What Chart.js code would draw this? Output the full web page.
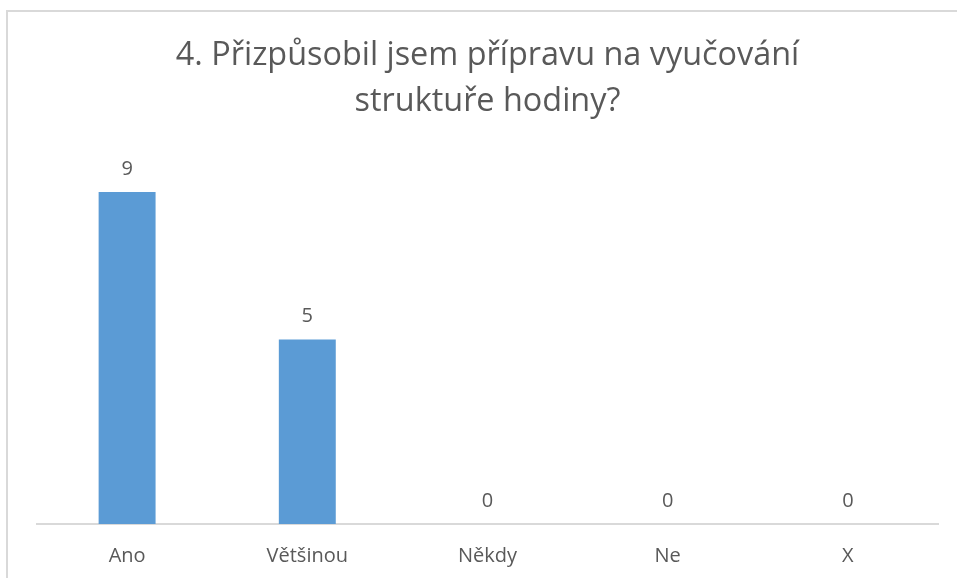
<!DOCTYPE html>
<html>
<head>
<meta charset="utf-8">
<script src="https://cdn.jsdelivr.net/npm/chart.js@4/dist/chart.umd.min.js"></script>
<style>
html,body{margin:0;padding:0;background:#fff;}
#wrap{position:relative;width:957px;height:578px;}
</style>
</head>
<body>
<div id="wrap"><canvas id="c" width="957" height="578"></canvas></div>
<script>
const categories = ["Ano", "Většinou", "Někdy", "Ne", "X"];
const values = [9, 5, 0, 0, 0];
const titleLines = ["4. Přizpůsobil jsem přípravu na vyučování", "struktuře hodiny?"];

const textColor = "#595959";
const fontFamily = "'Open Sans', sans-serif";

const frame = {
  id: "frame",
  beforeDraw(chart) {
    const ctx = chart.ctx;
    ctx.save();
    ctx.fillStyle = "#fff";
    ctx.fillRect(0, 0, chart.width, chart.height);
    ctx.strokeStyle = "#D9D9D9";
    ctx.lineWidth = 2;
    ctx.beginPath();
    ctx.moveTo(7, chart.height + 5);
    ctx.lineTo(7, 11);
    ctx.lineTo(chart.width + 5, 11);
    ctx.stroke();
    ctx.restore();
  }
};

const dataLabels = {
  id: "dataLabels",
  afterDatasetsDraw(chart) {
    const ctx = chart.ctx;
    const meta = chart.getDatasetMeta(0);
    ctx.save();
    ctx.fillStyle = textColor;
    ctx.font = "20px " + fontFamily;
    ctx.textAlign = "center";
    ctx.textBaseline = "middle";
    meta.data.forEach((bar, i) => {
      ctx.fillText(String(values[i]), bar.x, bar.y - 23);
    });
    ctx.restore();
  }
};

new Chart(document.getElementById("c"), {
  type: "bar",
  data: {
    labels: categories,
    datasets: [{
      data: values,
      backgroundColor: "#5B9BD5",
      borderWidth: 0,
      barPercentage: 0.316,
      categoryPercentage: 1.0
    }]
  },
  options: {
    responsive: false,
    animation: false,
    events: [],
    layout: { padding: { left: 37, right: 19, top: 0, bottom: 0 } },
    plugins: {
      legend: { display: false },
      tooltip: { enabled: false },
      title: {
        display: true,
        text: titleLines,
        color: textColor,
        font: { family: fontFamily, size: 32.4, weight: "normal", lineHeight: 1.42 },
        padding: { top: 33, bottom: 30 }
      }
    },
    scales: {
      x: {
        grid: { display: false, drawTicks: false },
        border: { display: true, color: "#D9D9D9", width: 2 },
        ticks: { color: textColor, font: { family: fontFamily, size: 20 }, padding: 20 },
        afterFit(scale) { scale.height = 54; }
      },
      y: {
        display: false,
        min: 0,
        max: 10
      }
    }
  },
  plugins: [frame, dataLabels]
});
</script>
</body>
</html>
